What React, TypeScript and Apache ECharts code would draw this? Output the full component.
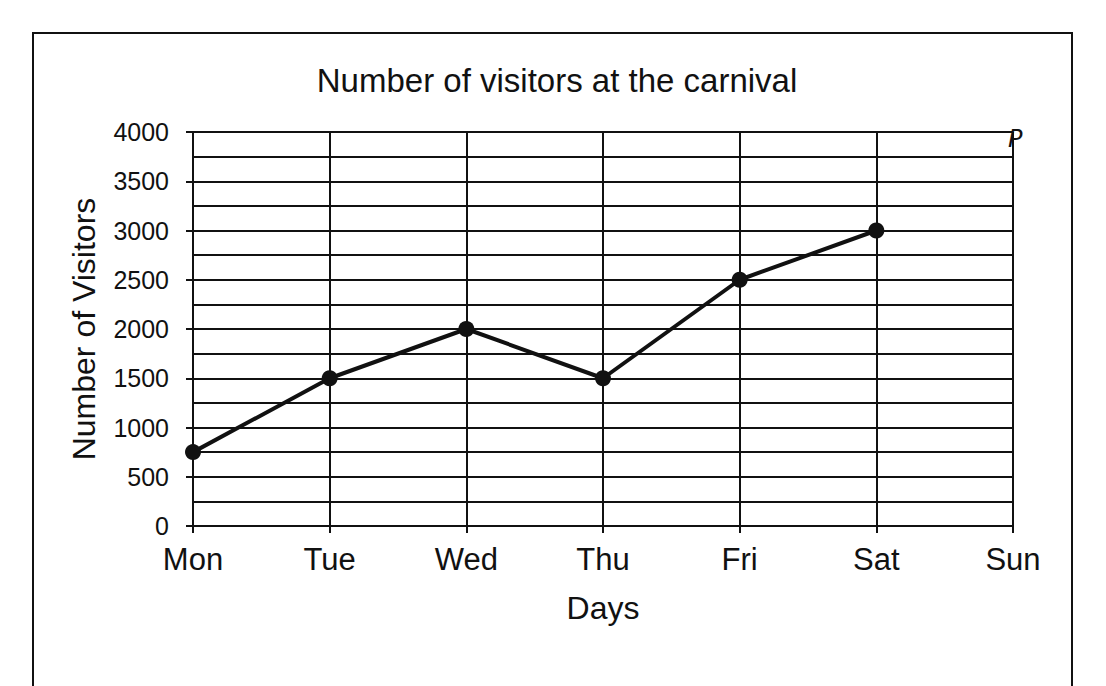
import * as echarts from 'echarts';
import React, { useEffect, useRef } from 'react';

const days = ['Mon', 'Tue', 'Wed', 'Thu', 'Fri', 'Sat', 'Sun'];
const visitors: (number | null)[] = [750, 1500, 2000, 1500, 2500, 3000, null];
const yMin = 0;
const yMax = 4000;
const yStep = 500;

const ink = '#111';
const font = '"Liberation Sans", Arial, sans-serif';

const VisitorsChart: React.FC = () => {
  const chartRef = useRef<HTMLDivElement>(null);

  useEffect(() => {
    if (!chartRef.current) return;
    const chart = echarts.init(chartRef.current, null, { renderer: 'svg' });

    const option: echarts.EChartsOption = {
      animation: false,
      backgroundColor: '#fff',
      textStyle: { fontFamily: font, color: ink },
      title: {
        text: 'Number of visitors at the carnival',
        left: 552,
        top: 59,
        textAlign: 'center',
        textStyle: { fontFamily: font, fontSize: 33, fontWeight: 'normal', color: ink },
      },
      grid: { left: 193, right: 93, top: 132, bottom: 160 },
      graphic: [
        {
          type: 'rect',
          shape: { x: 33, y: 33, width: 1039, height: 720 },
          style: { fill: 'none', stroke: ink, lineWidth: 2 },
          z: 10,
        },
        {
          type: 'text',
          x: 1008,
          y: 127,
          style: { text: 'P', font: 'italic 24px "DejaVu Sans", sans-serif', fill: ink },
          z: 10,
        },
      ],
      xAxis: {
        type: 'category',
        data: days,
        boundaryGap: false,
        name: 'Days',
        nameLocation: 'middle',
        nameGap: 66,
        nameTextStyle: { fontFamily: font, fontSize: 32, color: ink },
        axisLine: { show: true, lineStyle: { color: ink, width: 2 } },
        axisTick: { show: true, length: 7, lineStyle: { color: ink, width: 2 } },
        axisLabel: { fontFamily: font, fontSize: 31, color: ink, margin: 18 },
        splitLine: { show: true, lineStyle: { color: ink, width: 2 } },
      },
      yAxis: {
        type: 'value',
        min: yMin,
        max: yMax,
        interval: yStep,
        name: 'Number of Visitors',
        nameLocation: 'middle',
        nameGap: 93,
        nameTextStyle: { fontFamily: font, fontSize: 32, color: ink },
        axisLine: { show: true, lineStyle: { color: ink, width: 2 } },
        axisTick: { show: true, length: 7, lineStyle: { color: ink, width: 2 } },
        axisLabel: {
          fontFamily: font,
          fontSize: 25,
          color: ink,
          margin: 24,
          formatter: (v: number) => String(v),
        },
        splitLine: { show: true, lineStyle: { color: ink, width: 2 } },
        minorTick: { show: false, splitNumber: 2 },
        minorSplitLine: { show: true, lineStyle: { color: ink, width: 2 } },
      },
      series: [
        {
          type: 'line',
          data: visitors,
          symbol: 'circle',
          symbolSize: 16,
          showSymbol: true,
          connectNulls: false,
          lineStyle: { color: ink, width: 4 },
          itemStyle: { color: ink },
          z: 5,
        },
      ],
    };

    chart.setOption(option);
    return () => {
      chart.dispose();
    };
  }, []);

  return (
    <div
      ref={chartRef}
      style={{ position: 'fixed', left: 0, top: 0, width: '1106px', height: '686px' }}
    />
  );
};

export default VisitorsChart;
